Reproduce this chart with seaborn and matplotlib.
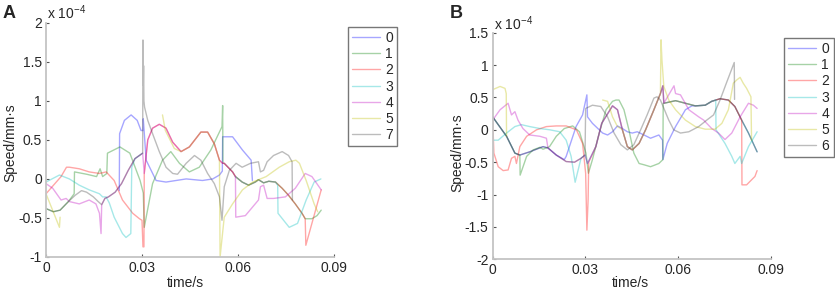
import pandas as pd
import matplotlib
matplotlib.use("Agg")
import matplotlib.pyplot as plt
from matplotlib.lines import Line2D
import seaborn as sns

# ---- panel A (values in units of 1e-4) ----
# shared overlapping path ("trunk") that several series run along
A_trunk_t = [0, 0.0023, 0.0044, 0.0070, 0.0091, 0.0111, 0.0127, 0.0148, 0.0163, 0.0174, 0.0184, 0.0195,
             0.0216, 0.0236, 0.0257, 0.0278, 0.0302, 0.0307, 0.0318, 0.0333, 0.0354, 0.0375, 0.0396, 0.0422,
             0.0448, 0.0484, 0.0505, 0.0526, 0.0542, 0.0552, 0.0557, 0.0583, 0.0592, 0.0613, 0.0633, 0.0654,
             0.0664, 0.0680, 0.0696, 0.0717, 0.0738, 0.0758, 0.0779, 0.0800, 0.0810, 0.0831, 0.0847, 0.0860]
A_trunk_v = [-0.38, -0.42, -0.40, -0.29, -0.21, -0.15, -0.17, -0.23, -0.29, -0.33, -0.25, -0.23,
             -0.17, -0.06, 0.11, 0.26, 0.33, 0.07, 0.50, 0.65, 0.70, 0.65, 0.47, 0.35,
             0.41, 0.60, 0.60, 0.45, 0.24, 0.20, 0.20, 0.09, 0.03, -0.04, -0.08, -0.04,
             -0.01, -0.05, -0.03, -0.04, -0.12, -0.21, -0.32, -0.44, -0.51, -0.51, -0.47, -0.40]

A0_t = [0.0229, 0.0230, 0.0245, 0.0266, 0.0285, 0.0297, 0.0303, 0.0304, 0.0313, 0.0344, 0.0375, 0.0438,
        0.0489, 0.0521, 0.0542, 0.0551, 0.0552, 0.0583, 0.0614, 0.0641, 0.0645]
A0_v = [-0.15, 0.58, 0.75, 0.82, 0.75, 0.62, 0.62, 0.77, 0.24, -0.02, -0.04, 0.0,
        -0.02, 0.0, 0.05, 0.10, 0.54, 0.54, 0.37, 0.24, -0.02]
A1_t = [0.0088, 0.0089, 0.0127, 0.0158, 0.0169, 0.0177, 0.0190, 0.0192, 0.0231, 0.0262, 0.0294, 0.0304,
        0.0307, 0.0333, 0.0364, 0.0390, 0.0417, 0.0448, 0.0479, 0.0515, 0.0550, 0.0552, 0.0553]
A1_v = [-0.19, 0.09, 0.06, 0.03, 0.13, 0.03, 0.07, 0.33, 0.41, 0.33, -0.02, -0.18,
        -0.62, -0.06, 0.24, 0.35, 0.20, 0.09, 0.15, 0.37, 0.67, 0.94, 0.20]
A2a_t = [0.0, 0.0047, 0.0064, 0.0073, 0.0104, 0.0135, 0.0167, 0.0188, 0.0213, 0.0239, 0.0271, 0.0292,
         0.0300, 0.0303, 0.0306]
A2a_v = [-0.19, 0.03, 0.15, 0.15, 0.13, 0.09, 0.07, 0.09, -0.02, -0.27, -0.44, -0.51,
         -0.53, -0.87, -0.87]
A2b_t = [0.0812, 0.0860]
A2b_v = [-0.85, -0.14]
A3a_t = [0.0, 0.0042, 0.0073, 0.0104, 0.0135, 0.0167, 0.0177, 0.0188, 0.0198, 0.0213, 0.0239, 0.0250,
         0.0265, 0.0268]
A3a_v = [-0.04, 0.05, 0.0, -0.08, -0.14, -0.19, -0.23, -0.23, -0.31, -0.49, -0.70, -0.75,
         -0.70, 0.15]
A3b_t = [0.0724, 0.0725, 0.0760, 0.0786, 0.0813, 0.0838, 0.0859]
A3b_v = [-0.08, -0.44, -0.62, -0.57, -0.27, -0.04, 0.0]
A4a_t = [0.0, 0.0021, 0.0047, 0.0063, 0.0073, 0.0104, 0.0135, 0.0156, 0.0167, 0.0172]
A4a_v = [-0.06, -0.12, -0.27, -0.25, -0.29, -0.32, -0.27, -0.32, -0.44, -0.70]
A4b_t = [0.0593, 0.0623, 0.0664, 0.0670, 0.0680, 0.0691, 0.0711, 0.0748, 0.0779, 0.0810, 0.0831, 0.0860]
A4b_v = [-0.49, -0.47, -0.27, -0.10, -0.08, -0.25, -0.25, -0.23, -0.12, 0.07, 0.03, -0.14]
A5a_t = [0.0, 0.0042, 0.0044]
A5a_v = [-0.19, -0.62, -0.49]
A5b_t = [0.0364, 0.0373, 0.0401]
A5b_v = [0.82, 0.62, 0.39]
A5c_t = [0.0544, 0.0557, 0.0583, 0.0614, 0.0646, 0.0688, 0.0729, 0.0760, 0.0781, 0.0792, 0.0813, 0.0838, 0.0849]
A5c_v = [-1.0, -0.49, -0.32, -0.14, -0.04, 0.03, 0.15, 0.22, 0.24, 0.20, -0.02, -0.32, -0.42]
A7_t = [0.0303, 0.0304, 0.0305, 0.0306, 0.0308, 0.0318, 0.0333, 0.0354, 0.0375, 0.0396, 0.0411, 0.0438,
        0.0464, 0.0484, 0.0505, 0.0526, 0.0542, 0.0550, 0.0557, 0.0573, 0.0594, 0.0613, 0.0639, 0.0664,
        0.0670, 0.0680, 0.0691, 0.0711, 0.0738, 0.0758, 0.0769, 0.0770]
A7_v = [1.78, 1.20, 1.45, 1.00, 0.92, 0.75, 0.58, 0.35, 0.15, 0.07, 0.06, 0.20,
        0.30, 0.24, 0.07, -0.06, -0.23, -0.53, -0.10, 0.11, 0.20, 0.15, 0.20, 0.22,
        0.09, 0.11, 0.22, 0.30, 0.35, 0.30, 0.22, -0.27]

# ---- panel B ----
B_trunk_t = [0, 0.0045, 0.0072, 0.0088, 0.0120, 0.0163, 0.0179, 0.0206, 0.0238, 0.0265, 0.0286, 0.0299,
             0.0307, 0.0334, 0.0353, 0.0388, 0.0404, 0.0420, 0.0436, 0.0452, 0.0474, 0.0495, 0.0522, 0.0543,
             0.0551, 0.0554, 0.0592, 0.0624, 0.0656, 0.0688, 0.0709, 0.0736, 0.0763, 0.0784, 0.0806, 0.0828,
             0.0856]
B_trunk_v = [0.20, -0.10, -0.36, -0.39, -0.34, -0.26, -0.28, -0.39, -0.49, -0.50, -0.44, -0.39,
             -0.52, -0.26, 0.10, 0.37, 0.31, 0.0, -0.26, -0.31, -0.21, 0.0, 0.31, 0.56,
             0.68, 0.41, 0.45, 0.41, 0.37, 0.38, 0.44, 0.48, 0.46, 0.36, 0.15, -0.05,
             -0.34]

B0_t = [0.0232, 0.0238, 0.0270, 0.0291, 0.0305, 0.0307, 0.0323, 0.0356, 0.0372, 0.0388, 0.0404, 0.0420,
        0.0436, 0.0452, 0.0468, 0.0490, 0.0511, 0.0538, 0.0550, 0.0551, 0.0565, 0.0592, 0.0624, 0.0645]
B0_v = [-0.46, -0.41, 0.05, 0.23, 0.54, 0.20, 0.10, -0.05, -0.08, -0.03, 0.06, 0.02,
        -0.03, -0.05, -0.03, -0.08, -0.13, -0.08, -0.16, -0.46, -0.21, 0.05, 0.31, 0.37]
B1_t = [0.0089, 0.0110, 0.0131, 0.0153, 0.0163, 0.0184, 0.0206, 0.0232, 0.0259, 0.0281, 0.0302, 0.0310,
        0.0323, 0.0345, 0.0367, 0.0388, 0.0399, 0.0409, 0.0425, 0.0441, 0.0457, 0.0474, 0.0490, 0.0511,
        0.0538, 0.0551, 0.0552]
B1_v = [-0.70, -0.41, -0.31, -0.27, -0.30, -0.26, -0.10, 0.02, 0.06, -0.03, -0.36, -0.67,
        -0.46, -0.05, 0.31, 0.44, 0.46, 0.46, 0.31, 0.0, -0.36, -0.52, -0.54, -0.57,
        -0.52, -0.46, 0.41]
B2a_t = [0.0, 0.0004, 0.0018, 0.0034, 0.0050, 0.0061, 0.0072, 0.0077, 0.0088, 0.0110, 0.0142, 0.0174,
         0.0206, 0.0238, 0.0271, 0.0291, 0.0301, 0.0305, 0.0309, 0.0311]
B2a_v = [0.20, -0.36, -0.57, -0.63, -0.62, -0.44, -0.41, -0.52, -0.26, -0.10, 0.0, 0.05,
         0.06, 0.06, 0.0, -0.21, -0.67, -1.55, -1.08, -0.50]
B2b_t = [0.0807, 0.0822, 0.0849, 0.0856]
B2b_v = [-0.85, -0.85, -0.72, -0.63]
B3a_t = [0, 0.0018, 0.0045, 0.0072, 0.0093, 0.0120, 0.0153, 0.0185, 0.0217, 0.0238, 0.0254, 0.0267]
B3a_v = [-0.16, -0.16, -0.05, 0.05, 0.08, 0.05, 0.02, 0.0, -0.03, -0.16, -0.41, -0.81]
B3b_t = [0.0722, 0.0723, 0.0752, 0.0774, 0.0784, 0.0801, 0.0806, 0.0828, 0.0856]
B3b_v = [0.46, 0.0, -0.21, -0.41, -0.52, -0.41, -0.52, -0.26, -0.03]
B4a_t = [0, 0.0024, 0.0050, 0.0061, 0.0072, 0.0082, 0.0098, 0.0120, 0.0153, 0.0174]
B4a_v = [0.15, 0.31, 0.41, 0.23, 0.28, 0.15, 0.02, -0.08, -0.10, -0.13]
B4b_t = [0.0587, 0.0592, 0.0608, 0.0635, 0.0667, 0.0683, 0.0709, 0.0731, 0.0752, 0.0774, 0.0801, 0.0828,
         0.0844, 0.0856]
B4b_v = [0.68, 0.56, 0.54, 0.31, 0.20, 0.15, 0.02, -0.05, -0.15, -0.05, 0.20, 0.41, 0.38, 0.33]
B5a_t = [0, 0.0024, 0.0040, 0.0044, 0.0045]
B5a_v = [0.62, 0.67, 0.64, 0.56, -0.10]
B5b_t = [0.0356, 0.0372, 0.0388, 0.0404, 0.0415]
B5b_v = [0.46, 0.44, 0.20, 0.05, 0.02]
B5c_t = [0.0545, 0.0548, 0.0554, 0.0570, 0.0592, 0.0624, 0.0656, 0.0688, 0.0720, 0.0742, 0.0763, 0.0779,
         0.0790, 0.0801, 0.0811, 0.0822, 0.0836, 0.0838]
B5c_v = [1.39, 1.08, 0.67, 0.46, 0.31, 0.15, 0.05, 0.01, 0.01, 0.10, 0.31, 0.72,
         0.77, 0.81, 0.72, 0.64, 0.51, -0.16]
B6_t = [0.0301, 0.0323, 0.0350, 0.0372, 0.0393, 0.0415, 0.0436, 0.0457, 0.0479, 0.0500, 0.0522, 0.0532,
        0.0543, 0.0570, 0.0586, 0.0608, 0.0635, 0.0667, 0.0693, 0.0715, 0.0736, 0.0758, 0.0782, 0.0783]
B6_v = [0.33, 0.38, 0.36, 0.20, -0.05, -0.23, -0.31, -0.23, 0.0, 0.23, 0.49, 0.51,
        0.46, 0.15, 0.0, -0.05, -0.03, 0.05, 0.15, 0.23, 0.46, 0.74, 1.04, 0.47]

labels_A = ["0", "1", "2", "3", "4", "5", "7"]
labels_B = ["0", "1", "2", "3", "4", "5", "6"]
# MATLAB-like b g r c m y k, drawn semi-transparent
colors = [(0, 0, 1), (0, 0.5, 0), (1, 0, 0), (0, 0.75, 0.75), (0.75, 0, 0.75), (0.75, 0.75, 0), (0.25, 0.25, 0.25)]
ALPHA = 0.35


def own(t, v):
    return list(zip(t, v))


def trunk(tt, vv, lo, hi):
    return [(a, b) for a, b in zip(tt, vv) if lo <= a <= hi]


TA = (A_trunk_t, A_trunk_v)
TB = (B_trunk_t, B_trunk_v)
# each series is a list of separately drawn pieces
seriesA = [
    [own(A0_t, A0_v)],
    [trunk(*TA, 0, 0.0087) + own(A1_t, A1_v) + trunk(*TA, 0.0557, 1)],
    [own(A2a_t, A2a_v) + trunk(*TA, 0.0307, 0.0810) + own(A2b_t, A2b_v)],
    [own(A3a_t, A3a_v) + trunk(*TA, 0.0278, 0.0302), trunk(*TA, 0.0592, 0.0717) + own(A3b_t, A3b_v)],
    [own(A4a_t, A4a_v) + trunk(*TA, 0.0174, 0.0592) + own(A4b_t, A4b_v)],
    [own(A5a_t, A5a_v), own(A5b_t, A5b_v) + trunk(*TA, 0.0422, 0.0542) + own(A5c_t, A5c_v)],
    [trunk(*TA, 0, 0.0302) + own(A7_t, A7_v)],
]
seriesB = [
    [trunk(*TB, 0, 0.0232) + own(B0_t, B0_v) + trunk(*TB, 0.0656, 1)],
    [trunk(*TB, 0, 0.0088) + own(B1_t, B1_v) + trunk(*TB, 0.0554, 1)],
    [own(B2a_t, B2a_v) + trunk(*TB, 0.0312, 0.0806) + own(B2b_t, B2b_v)],
    [own(B3a_t, B3a_v) + trunk(*TB, 0.0268, 0.0709) + own(B3b_t, B3b_v)],
    [own(B4a_t, B4a_v) + trunk(*TB, 0.0179, 0.0586) + own(B4b_t, B4b_v)],
    [own(B5a_t, B5a_v), own(B5b_t, B5b_v) + trunk(*TB, 0.0420, 0.0543) + own(B5c_t, B5c_v)],
    [trunk(*TB, 0, 0.0299) + own(B6_t, B6_v)],
]


def to_frame(series, labels):
    rows = []
    for lab, pieces in zip(labels, series):
        for k, pts in enumerate(pieces):
            for t, v in pts:
                rows.append({"series": lab, "piece": f"{lab}-{k}", "t": t, "v": v})
    return pd.DataFrame(rows)


sns.set_style("white")
plt.rcParams["font.family"] = ["Liberation Sans", "DejaVu Sans"]
plt.rcParams["mathtext.default"] = "regular"

fig = plt.figure(figsize=(8.35, 2.92), dpi=100)
axA = fig.add_axes([0.0551, 0.1199, 0.3449, 0.802])
axB = fig.add_axes([0.590, 0.112, 0.333, 0.776])


def draw(ax, series, labels, ylim, yticks, legend_xy):
    df = to_frame(series, labels)
    pal = dict(zip(labels, colors))
    sns.lineplot(data=df, x="t", y="v", hue="series", hue_order=labels, units="piece",
                 palette=pal, sort=False, estimator=None,
                 alpha=ALPHA, linewidth=1.0, legend=False, ax=ax)
    ax.set_xlim(0, 0.09)
    ax.set_ylim(*ylim)
    ax.set_xticks([0, 0.03, 0.06, 0.09], ["0", "0.03", "0.06", "0.09"])
    ax.set_yticks(yticks, [("%g" % y) for y in yticks])
    ax.set_xlabel("")
    ax.set_ylabel("")
    for s in ["top", "right"]:
        ax.spines[s].set_visible(False)
    for s in ["left", "bottom"]:
        ax.spines[s].set_color("#c4c4c4")
        ax.spines[s].set_linewidth(1.3)
    ax.tick_params(direction="in", length=2.5, width=0.8, color="#555555",
                   labelsize=10, pad=3, left=True, bottom=True)
    ax.set_facecolor("none")
    handles = [Line2D([], [], color=pal[l], alpha=ALPHA, linewidth=1.0) for l in labels]
    leg = ax.legend(handles=handles, labels=labels,
                    loc="upper left", bbox_to_anchor=legend_xy, bbox_transform=fig.transFigure,
                    borderaxespad=0, frameon=True, fancybox=False, fontsize=10,
                    handlelength=2.0, handletextpad=0.4, labelspacing=0.16, borderpad=0.3)
    leg.get_frame().set_edgecolor("#555555")
    leg.get_frame().set_linewidth(1.0)


draw(axA, seriesA, labels_A, (-1, 2), [-1, -0.5, 0, 0.5, 1, 1.5, 2], (347.7 / 835, 1 - 26.7 / 292))
draw(axB, seriesB, labels_B, (-2, 1.5), [-2, -1.5, -1, -0.5, 0, 0.5, 1, 1.5], (784 / 835, 1 - 37.7 / 292))

# multipliers, axis titles, panel letters
fig.text(47 / 835, 1 - 19 / 292, r"x 10$^{-4}$", fontsize=10, va="baseline")
fig.text(494 / 835, 1 - 30 / 292, r"x 10$^{-4}$", fontsize=10, va="baseline")
fig.text(10 / 835, 1 - 143 / 292, "Speed/mm\u00b7s", rotation=90, fontsize=10, ha="center", va="center")
fig.text(457 / 835, 1 - 153 / 292, "Speed/mm\u00b7s", rotation=90, fontsize=10, ha="center", va="center")
fig.text(185 / 835, 1 - 283 / 292, "time/s", fontsize=10, ha="center", va="center")
fig.text(630 / 835, 1 - 283 / 292, "time/s", fontsize=10, ha="center", va="center")
fig.text(3 / 835, 1 - 13 / 292, "A", fontsize=13, fontweight="bold", va="center")
fig.text(450 / 835, 1 - 14 / 292, "B", fontsize=13, fontweight="bold", va="center")

fig.savefig("out.png", dpi=100)
